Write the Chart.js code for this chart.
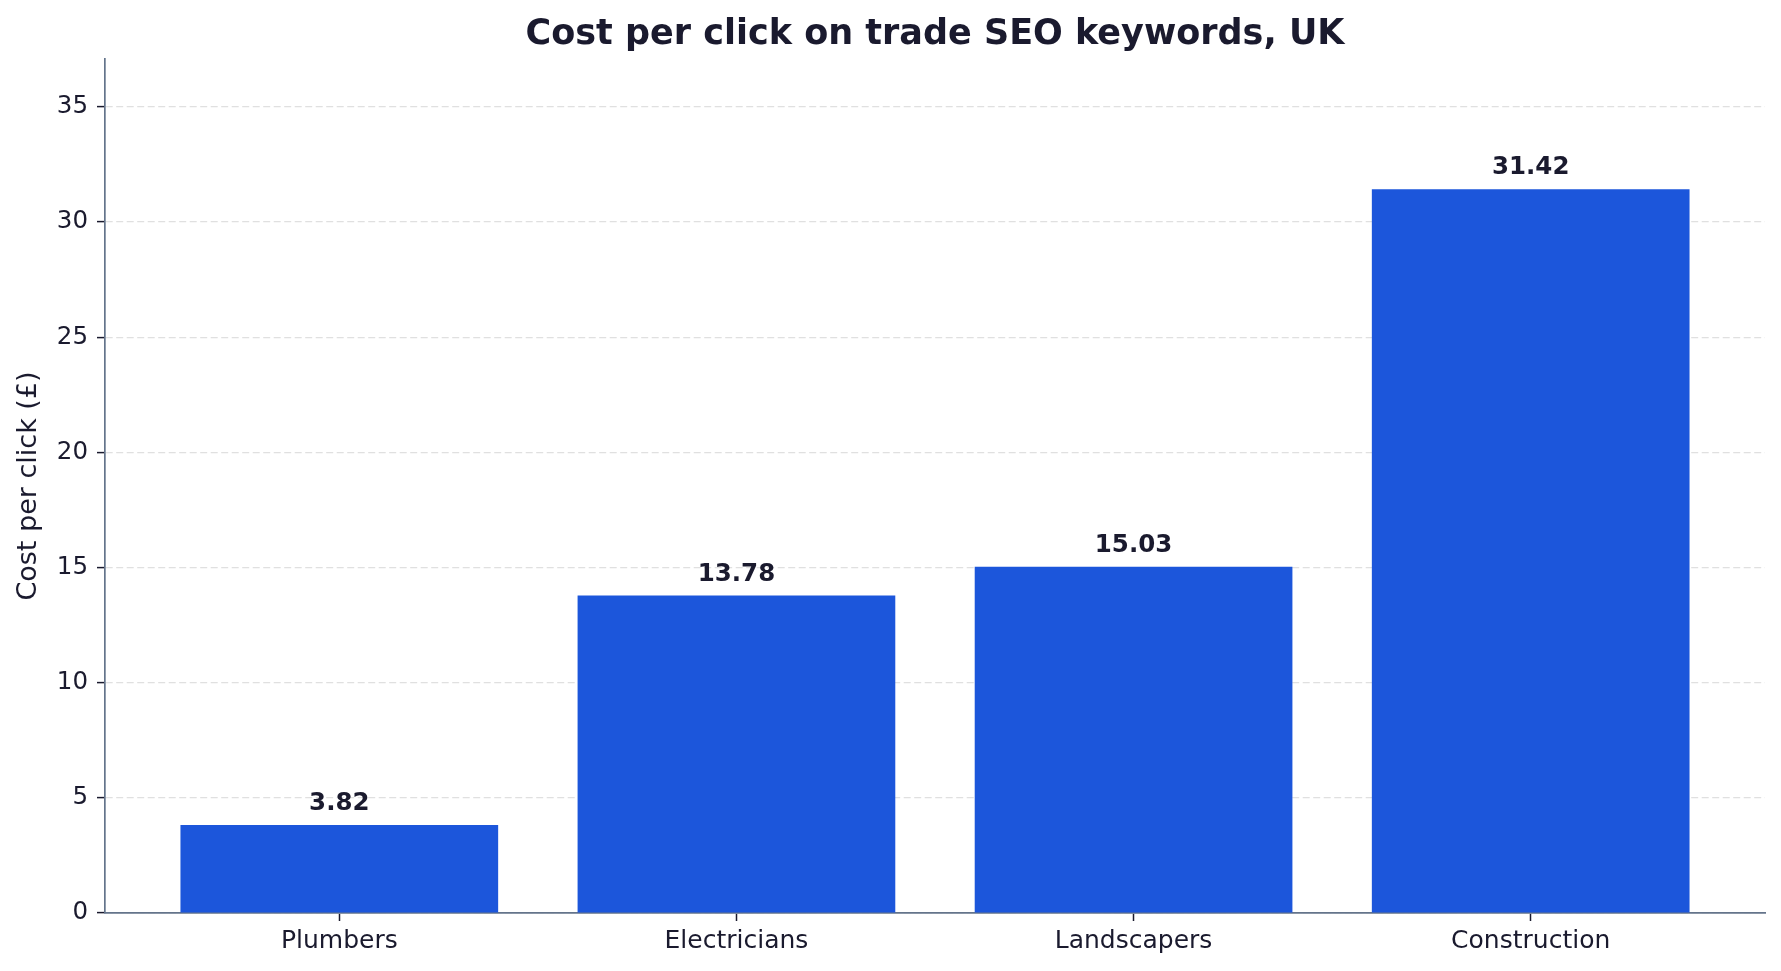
<!DOCTYPE html>
<html>
<head>
<meta charset="utf-8">
<script src="https://cdn.jsdelivr.net/npm/chart.js@4"></script>
<style>
  html, body { margin: 0; padding: 0; background: #ffffff; }
  #wrap { width: 1781px; height: 971px; }
</style>
</head>
<body>
<div id="wrap"><canvas id="cpcChart" width="1781" height="971"></canvas></div>
<script>
const categories = ["Plumbers", "Electricians", "Landscapers", "Construction"];
const cpcValues = [3.82, 13.78, 15.03, 31.42];
const yTicks = [0, 5, 10, 15, 20, 25, 30, 35];

const textColor = "#1a1a2e";
const barColor = "#1c56db";
const spineColor = "#64748b";
const font = "DejaVu Sans";

// value labels above each bar
const barLabels = {
  id: "barLabels",
  afterDatasetsDraw(chart) {
    const ctx = chart.ctx;
    const meta = chart.getDatasetMeta(0);
    ctx.save();
    ctx.font = "bold 24.5px '" + font + "'";
    ctx.fillStyle = textColor;
    ctx.textAlign = "center";
    ctx.textBaseline = "alphabetic";
    meta.data.forEach((bar, i) => {
      ctx.fillText(cpcValues[i].toFixed(2), bar.x, bar.y - 15);
    });
    ctx.restore();
  }
};

new Chart(document.getElementById("cpcChart"), {
  type: "bar",
  data: {
    datasets: [{
      data: cpcValues.map((v, i) => ({ x: i, y: v })),
      backgroundColor: barColor,
      borderWidth: 0,
      barPercentage: 1,
      categoryPercentage: 0.8
    }]
  },
  options: {
    responsive: false,
    maintainAspectRatio: false,
    animation: false,
    layout: { padding: { left: 0, right: 16, top: 0, bottom: 0 } },
    scales: {
      x: {
        type: "linear",
        offset: false,
        min: -0.59,
        max: categories.length - 1 + 0.59,
        afterBuildTicks: axis => { axis.ticks = categories.map((c, i) => ({ value: i })); },
        afterFit: scale => { scale.height = 58; },
        ticks: {
          callback: v => categories[v],
          color: textColor,
          font: { family: font, size: 25 },
          padding: 5,
          maxRotation: 0,
          autoSkip: false
        },
        grid: {
          offset: false,
          drawOnChartArea: false,
          drawTicks: true,
          tickLength: 8,
          tickWidth: 1.5,
          tickColor: textColor
        },
        border: { display: true, color: spineColor, width: 1.7 }
      },
      y: {
        min: 0,
        max: Math.max(...cpcValues) * 1.18,
        afterBuildTicks: axis => { axis.ticks = yTicks.map(v => ({ value: v })); },
        afterFit: scale => { scale.width = 105; },
        ticks: {
          color: textColor,
          font: { family: font, size: 24.5 },
          padding: 9
        },
        title: {
          display: true,
          text: "Cost per click (£)",
          color: textColor,
          font: { family: font, size: 27 },
          padding: { top: 13, bottom: 0 }
        },
        grid: {
          color: "#e0e0e0",
          lineWidth: 1.2,
          tickBorderDash: [],
          drawTicks: true,
          tickLength: 8,
          tickWidth: 1.5,
          tickColor: textColor
        },
        border: { display: true, color: spineColor, width: 1.7, dash: [7, 3.5] }
      }
    },
    plugins: {
      legend: { display: false },
      tooltip: { enabled: false },
      title: {
        display: true,
        fullSize: false,
        text: "Cost per click on trade SEO keywords, UK",
        color: textColor,
        font: { family: font, size: 35, weight: "bold" },
        padding: { top: 14, bottom: 3 }
      }
    }
  },
  plugins: [barLabels]
});
</script>
</body>
</html>
